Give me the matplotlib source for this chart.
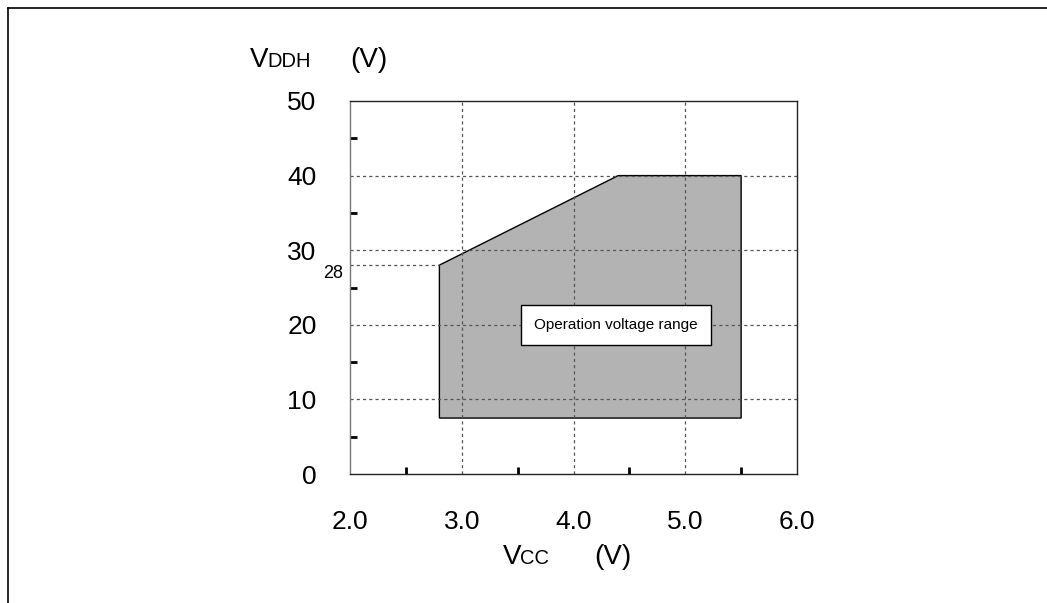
import matplotlib
matplotlib.use("Agg")
import matplotlib.pyplot as plt
import matplotlib.transforms as mtrans
from matplotlib.lines import Line2D

plt.rcParams['font.family'] = ['Liberation Sans', 'DejaVu Sans']

# Data
region_vcc = [2.8, 2.8, 4.4, 5.5, 5.5]
region_vddh = [7.5, 28, 40, 40, 7.5]
x_ticks = [2.0, 3.0, 4.0, 5.0, 6.0]
x_labels = ["2.0", "3.0", "4.0", "5.0", "6.0"]
y_ticks = [0, 10, 20, 30, 40, 50]
y_labels = ["0", "10", "20", "30", "40", "50"]
x_minor = [2.5, 3.5, 4.5, 5.5]
y_minor = [5, 15, 25, 35, 45]
mark_value = 28
box_text = "Operation voltage range"

W, H = 1047, 603
fig = plt.figure(figsize=(W/100, H/100), dpi=100)
ax = fig.add_axes([350/W, 1 - 474/H, (797-350)/W, (474-101)/H])
ax.set_xlim(2.0, 6.0)
ax.set_ylim(0, 50)

ax.fill(region_vcc, region_vddh, facecolor='#b3b3b3', edgecolor='black', linewidth=1.0, zorder=1)

grid_kw = dict(color='#555555', linestyle=(0, (2.5, 2.5)), linewidth=0.9, zorder=2)
for xv in [3.0, 4.0, 5.0]:
    ax.axvline(xv, **grid_kw)
for yv in [10, 20, 30, 40]:
    ax.axhline(yv, **grid_kw)
ax.plot([2.0, region_vcc[1]], [mark_value, mark_value], **grid_kw)

ax.set_xticks(x_ticks)
ax.set_xticklabels(x_labels, fontsize=19)
ax.set_yticks(y_ticks)
ax.set_yticklabels(y_labels, fontsize=19)
ax.tick_params(axis='both', which='major', length=0)
ax.tick_params(axis='x', pad=26)
ax.tick_params(axis='y', pad=24)
for lbl in ax.get_yticklabels():
    lbl.set_verticalalignment('center_baseline')
ax.set_xticks(x_minor, minor=True)
ax.set_yticks(y_minor, minor=True)
ax.tick_params(axis='both', which='minor', direction='in', length=5, width=2, color='black')

for s in ['left', 'bottom', 'right', 'top']:
    ax.spines[s].set_linewidth(1.0)
    ax.spines[s].set_color('#222222')
ax.spines['left'].set_color('#777777')

ax.text(343/W, mark_value, str(mark_value),
        transform=mtrans.blended_transform_factory(fig.transFigure, ax.transData),
        ha='right', va='top', fontsize=13)

ax.text(4.38, 20, box_text, ha='center', va='center', fontsize=11, zorder=5,
        bbox=dict(boxstyle='square,pad=0.85', facecolor='white', edgecolor='black', linewidth=1.0))

# Axis titles
fig.text(250/W, 1 - 67/H, "V", fontsize=20, ha='left', va='baseline')
fig.text(267/W, 1 - 67/H, "DDH", fontsize=14.5, ha='left', va='baseline')
fig.text(350/W, 1 - 67/H, "(V)", fontsize=20, ha='left', va='baseline')
fig.text(503/W, 1 - 564/H, "V", fontsize=20, ha='left', va='baseline')
fig.text(520/W, 1 - 564/H, "CC", fontsize=14.5, ha='left', va='baseline')
fig.text(594/W, 1 - 564/H, "(V)", fontsize=20, ha='left', va='baseline')

# Figure frame lines (top and left)
fig.add_artist(Line2D([8/W, 1.0], [1 - 8/H, 1 - 8/H], transform=fig.transFigure, color='black', linewidth=1.2))
fig.add_artist(Line2D([8/W, 8/W], [1 - 8/H, 0.0], transform=fig.transFigure, color='black', linewidth=1.2))

fig.savefig("out.png", dpi=100)
